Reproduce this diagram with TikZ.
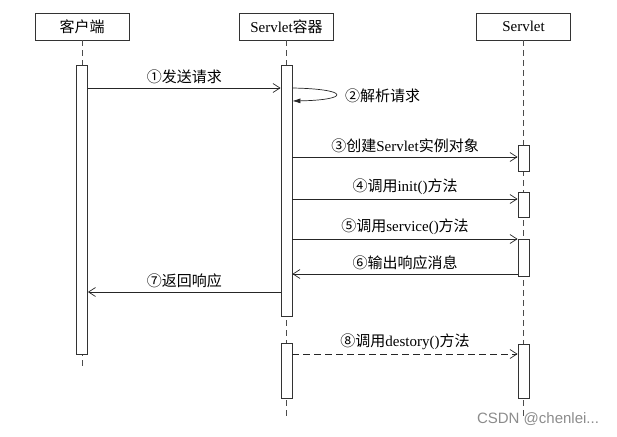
\documentclass[tikz,border=0pt]{standalone}
\usepackage{fontspec}
\setmainfont{Liberation Serif}
\newfontfamily\zh{Noto Sans CJK SC}
\newfontfamily\wmfont{Liberation Sans}
\usepackage{tikz}
\usetikzlibrary{arrows.meta,positioning,calc}

\tikzset{
  hdr/.style={draw=black!80,line width=0.8pt,minimum width=94pt,minimum height=27pt,
    inner sep=0pt,font=\fontsize{15}{18}\selectfont},
  act/.style={draw=black!80,line width=0.8pt,fill=white,minimum width=11pt,
    inner sep=0pt,anchor=north},
  life/.style={draw=black!70,line width=0.9pt,dash pattern=on 6pt off 4pt},
  msg/.style={draw=black!85,line width=0.7pt,-{Straight Barb[length=7pt,width=9pt]}},
  lbl/.style={midway,above,inner sep=4pt,font=\fontsize{15}{18}\selectfont},
}

\begin{document}
\begin{tikzpicture}[x=1pt,y=-1pt]
  \useasboundingbox (0,0) rectangle (617,436);

  % lifeline heads
  \node[hdr] (client) at (82,26.5) {\zh 客户端};
  \node[hdr] (cont) at (286.5,26.5) {Servlet{\zh 容器}};
  \node[hdr] (srv) at (523.5,26.5) {Servlet};

  % dashed lifelines
  \coordinate (cend) at (82,368);
  \coordinate (bottom) at (0,420);
  \draw[life] (client.south) -- (cend);
  \draw[life] (cont.south) -- (cont.south |- bottom);
  \draw[life] (srv.south) -- (srv.south |- bottom);

  % activation bars
  \node[act,minimum height=289pt] (ca) at (82,65) {};
  \node[act,minimum height=251pt] (c1) at (286.5,65) {};
  \node[act,minimum height=55pt] (c2) at (286.5,343) {};
  \foreach \n/\t/\h in {1/145/26,2/192/25,3/239/37,4/344/54} {
    \node[act,minimum height=\h pt] (s\n) at (523.5,\t) {};
  }

  % message levels
  \foreach \n/\y in {1/88,3/157,4/199,5/239,6/274,7/292,8/354} {
    \coordinate (y\n) at (0,\y);
  }

  % requests and replies
  \draw[msg] (ca.east |- y1) -- node[lbl] {\zh ①发送请求} (c1.west |- y1);
  \coordinate (loopa) at (c1.east |- y1);
  \coordinate (loopb) at ($(c1.east |- y1)+(0,13)$);
  \draw[draw=black!85,line width=0.7pt,-{Latex[length=8pt,width=5pt]}]
    (loopa) .. controls ($(loopa)+(58,1)$) and ($(loopb)+(58,-1)$) .. (loopb);
  \node[anchor=west,inner sep=2pt,font=\fontsize{15}{18}\selectfont] (parse) at (343,96) {\zh ②解析请求};
  \draw[msg] (c1.east |- y3) -- node[lbl] {{\zh ③创建}Servlet{\zh 实例对象}} (s1.west |- y3);
  \draw[msg] (c1.east |- y4) -- node[lbl] {{\zh ④调用}init(){\zh 方法}} (s2.west |- y4);
  \draw[msg] (c1.east |- y5) -- node[lbl] {{\zh ⑤调用}service(){\zh 方法}} (s3.west |- y5);
  \draw[msg] (s3.west |- y6) -- node[lbl] {\zh ⑥输出响应消息} (c1.east |- y6);
  \draw[msg] (c1.west |- y7) -- node[lbl] {\zh ⑦返回响应} (ca.east |- y7);
  \draw[msg,dash pattern=on 7pt off 4pt] (c2.east |- y8) -- node[lbl] {{\zh ⑧调用}destory(){\zh 方法}} (s4.west |- y8);

  \node[text=black!45,font=\wmfont\fontsize{15}{18}\selectfont] (mark) at (538,419) {CSDN @chenlei...};

\end{tikzpicture}
\end{document}
